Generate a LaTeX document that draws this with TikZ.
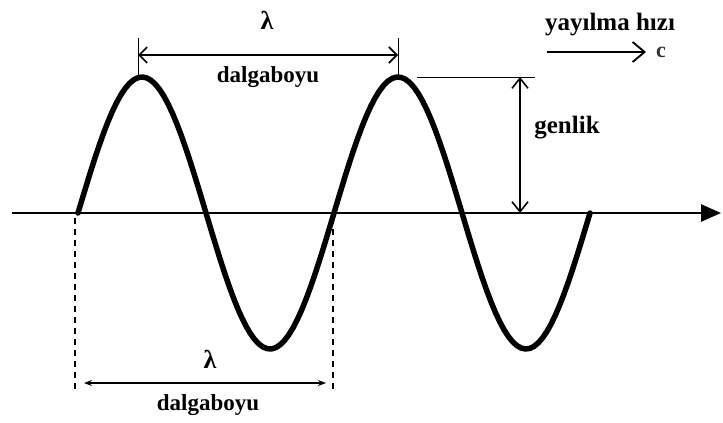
\documentclass[tikz,border=0pt]{standalone}
\usepackage{fontspec}
\setmainfont{Liberation Serif}
\usetikzlibrary{arrows.meta}
\tikzset{
  lbl/.style={font=\bfseries\fontsize{23}{26}\selectfont, inner sep=0pt},
  lam/.style={font=\bfseries\fontsize{26}{28}\selectfont, inner sep=0pt},
  dim/.style={line width=1.6pt},
  wave/.style={line width=5.5pt, line cap=round, line join=round}
}
\begin{document}
\begin{tikzpicture}[x=1pt,y=-1pt]
\useasboundingbox (0,0) rectangle (723,423);
% axis
\coordinate (axL) at (12,213);
\coordinate (axR) at (721,213);
\draw[line width=2.6pt,-{Triangle[length=20pt,width=17pt]}] (axL) -- (axR);
% wave
\draw[wave] plot[domain=78:590,samples=120] (\x,{213-136*sin((\x-78)*1.40625)});
% top wavelength
\coordinate (t1a) at (138,38);
\coordinate (t1b) at (138,76);
\coordinate (t2a) at (398,38);
\coordinate (t2b) at (398,76);
\draw[line width=1pt] (t1a) -- (t1b);
\draw[line width=1pt] (t2a) -- (t2b);
\coordinate (topL) at (138,55);
\coordinate (topR) at (398,55);
\draw[dim,{Straight Barb[length=8pt,width=16pt]}-{Straight Barb[length=8pt,width=16pt]}] (topL) -- (topR);
\node[lam] (lamtop) at (267,20) {λ};
\node[lbl] (dtop) at (268,77) {dalgaboyu};
% speed
\coordinate (vL) at (547,52);
\coordinate (vR) at (646,52);
\draw[line width=1.8pt,-{Straight Barb[length=12pt,width=20pt]}] (vL) -- (vR);
\node[lbl,font=\bfseries\fontsize{25}{28}\selectfont] (speed) at (610,25) {yayılma hızı};
\node[font=\bfseries\fontsize{22}{24}\selectfont, inner sep=0pt, text=black!80, anchor=base] (cc) at (661,57) {c};
% amplitude
\coordinate (aL) at (417,77);
\coordinate (aR) at (535,77);
\draw[line width=0.8pt] (aL) -- (aR);
\coordinate (aT) at (520,77);
\coordinate (aB) at (520,213);
\draw[dim,{Straight Barb[length=10pt,width=16pt]}-{Straight Barb[length=10pt,width=16pt]}] (aT) -- (aB);
\node[lbl,font=\bfseries\fontsize{25}{28}\selectfont] (amp) at (567,128) {genlik};
% bottom wavelength
\coordinate (d1a) at (75,218);
\coordinate (d1b) at (75,392);
\coordinate (d2a) at (333,218);
\coordinate (d2b) at (333,392);
\draw[line width=1.2pt,dashed,dash pattern=on 6pt off 5pt] (d1a) -- (d1b);
\draw[line width=1.2pt,dashed,dash pattern=on 6pt off 5pt] (d2a) -- (d2b);
\coordinate (botL) at (84,383);
\coordinate (botR) at (326,383);
\draw[line width=1.2pt,{Stealth[length=8pt,width=6pt]}-{Stealth[length=8pt,width=6pt]}] (botL) -- (botR);
\node[lam] (lambot) at (210,359) {λ};
\node[lbl] (dbot) at (208,405) {dalgaboyu};
\end{tikzpicture}
\end{document}
